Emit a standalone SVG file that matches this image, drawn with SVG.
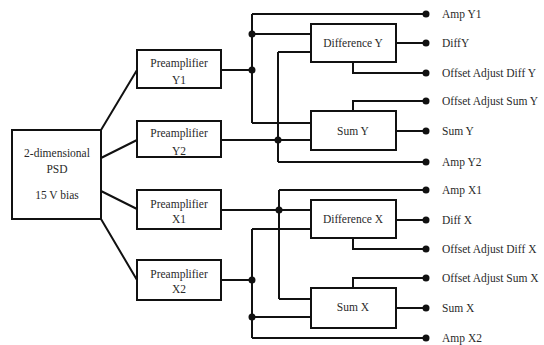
<svg xmlns="http://www.w3.org/2000/svg" width="544" height="345" viewBox="0 0 544 345">
<style>
.box{fill:#fff;stroke:#111;stroke-width:2}
.w{fill:none;stroke:#111;stroke-width:2}
.t{font-family:"Liberation Serif",serif;font-size:11.5px;fill:#2a2a2a}
.c{text-anchor:middle}
.d{fill:#111}
</style>
<rect width="544" height="345" fill="#fff"/>
<g id="connectors">
<path class="w" d="M101 130 L137 70 M101 158 L137 140 M101 191 L137 209 M101 219 L137 280"/>
<path class="w" d="M221 70 H252 M252 14 V123 M252 14 H426 M252 123 H311 M252 34 H311 M278 52 V162 M278 52 H311 M278 162 H426 M221 140 H311 M396 43 H426 M353 62 V73 H426 M353 111 V101 H426 M396 131 H426"/>
<path class="w" d="M279 190 V299 M279 190 H426 M221 210 H311 M279 299 H311 M252 229 V338 M252 229 H311 M252 338 H426 M221 280 H252 M252 317 H311 M396 220 H426 M353 238 V249 H426 M353 288 V278 H426 M396 308 H426"/>
<g class="d">
<circle cx="252" cy="34" r="3.5"/><circle cx="252" cy="70" r="3.5"/><circle cx="278" cy="140" r="3.5"/>
<circle cx="279" cy="210" r="3.5"/><circle cx="252" cy="280" r="3.5"/><circle cx="252" cy="317" r="3.5"/>
<circle cx="426" cy="14" r="3.5"/><circle cx="426" cy="43" r="3.5"/><circle cx="426" cy="73" r="3.5"/><circle cx="426" cy="101" r="3.5"/><circle cx="426" cy="131" r="3.5"/><circle cx="426" cy="162" r="3.5"/>
<circle cx="426" cy="190" r="3.5"/><circle cx="426" cy="220" r="3.5"/><circle cx="426" cy="249" r="3.5"/><circle cx="426" cy="278" r="3.5"/><circle cx="426" cy="308" r="3.5"/><circle cx="426" cy="338" r="3.5"/>
</g>
</g>
<g id="psd"><rect class="box" x="12" y="130" width="89" height="89"/>
<text class="t c" x="57" y="156.5">2-dimensional</text><text class="t c" x="57" y="172.5">PSD</text><text class="t c" x="57" y="199">15 V bias</text></g>
<g id="preY1"><rect class="box" x="137" y="50" width="84" height="38"/><text class="t c" x="179" y="67">Preamplifier</text><text class="t c" x="179" y="84">Y1</text></g>
<g id="preY2"><rect class="box" x="137" y="121" width="84" height="36"/><text class="t c" x="179" y="137">Preamplifier</text><text class="t c" x="179" y="155">Y2</text></g>
<g id="preX1"><rect class="box" x="137" y="190" width="84" height="39"/><text class="t c" x="179" y="208">Preamplifier</text><text class="t c" x="179" y="223">X1</text></g>
<g id="preX2"><rect class="box" x="137" y="260" width="84" height="40"/><text class="t c" x="179" y="278">Preamplifier</text><text class="t c" x="179" y="293">X2</text></g>
<g id="diffY"><rect class="box" x="311" y="24" width="85" height="38"/><text class="t c" x="353" y="47">Difference Y</text></g>
<g id="sumY"><rect class="box" x="311" y="111" width="85" height="39"/><text class="t c" x="353" y="135">Sum Y</text></g>
<g id="diffX"><rect class="box" x="311" y="200" width="85" height="38"/><text class="t c" x="353" y="223">Difference X</text></g>
<g id="sumX"><rect class="box" x="311" y="288" width="85" height="40"/><text class="t c" x="353" y="311">Sum X</text></g>
<g id="outputs">
<text class="t" x="442" y="18">Amp Y1</text>
<text class="t" x="442" y="47">DiffY</text>
<text class="t" x="442" y="77">Offset Adjust Diff Y</text>
<text class="t" x="442" y="105">Offset Adjust Sum Y</text>
<text class="t" x="442" y="135">Sum Y</text>
<text class="t" x="442" y="166">Amp Y2</text>
<text class="t" x="442" y="194">Amp X1</text>
<text class="t" x="442" y="224">Diff X</text>
<text class="t" x="442" y="253">Offset Adjust Diff X</text>
<text class="t" x="442" y="282">Offset Adjust Sum X</text>
<text class="t" x="442" y="312">Sum X</text>
<text class="t" x="442" y="342">Amp X2</text>
</g>
</svg>
